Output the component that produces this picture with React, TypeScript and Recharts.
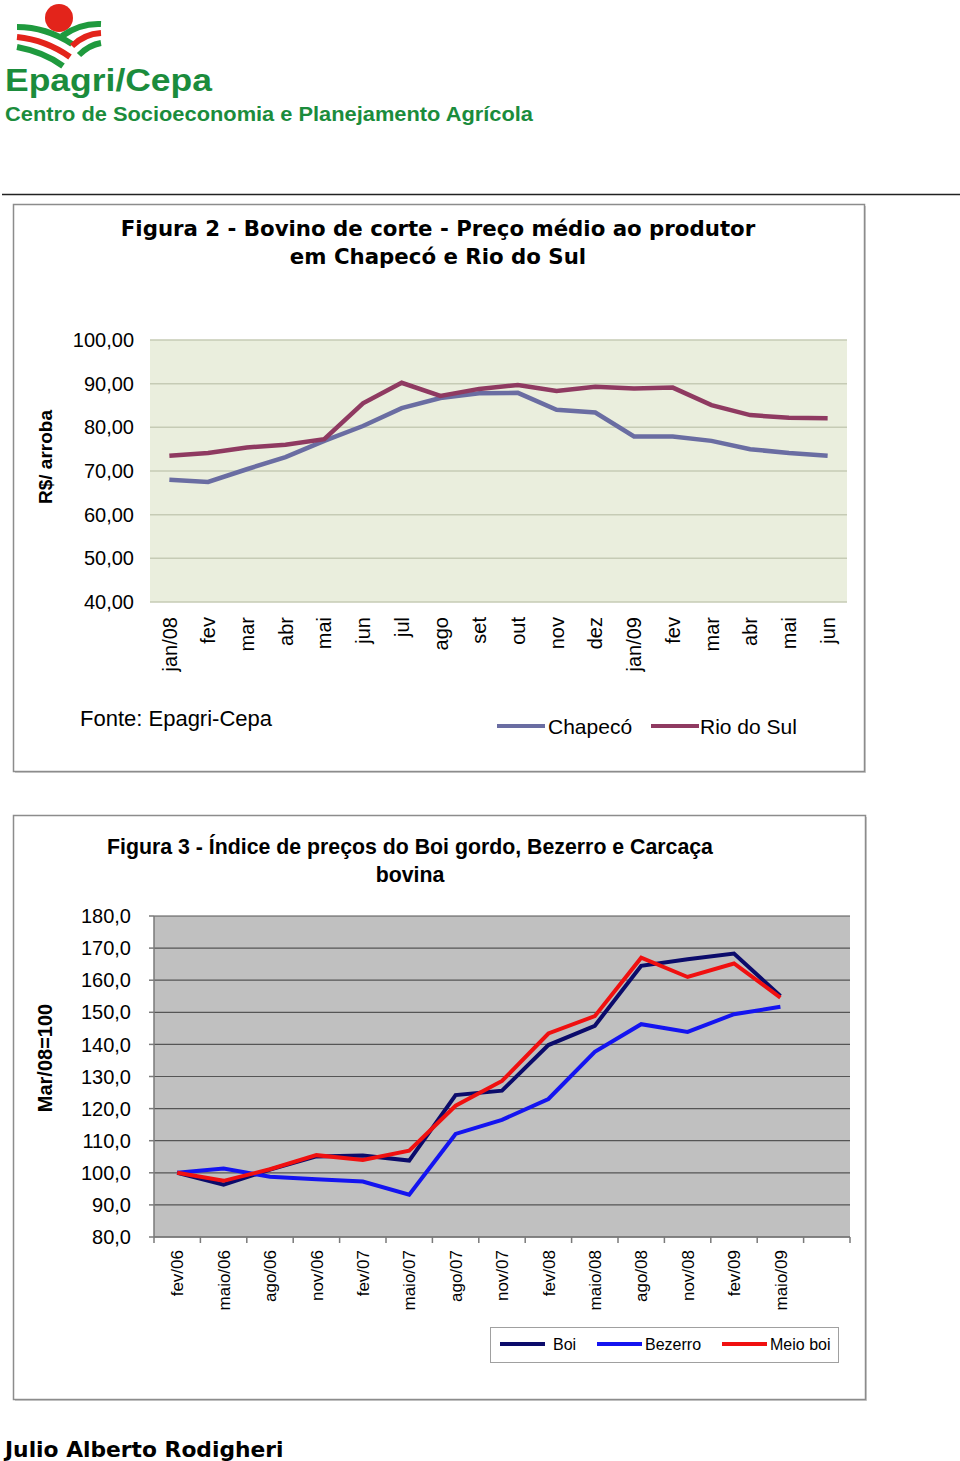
import { LineChart, Line, XAxis, YAxis, CartesianGrid } from "recharts";

// Figura 2 - preço médio (R$/arroba)
const months1 = ["jan/08", "fev", "mar", "abr", "mai", "jun", "jul", "ago", "set", "out", "nov", "dez", "jan/09", "fev", "mar", "abr", "mai", "jun"];
const chapeco = [68.0, 67.5, 70.4, 73.2, 76.9, 80.3, 84.4, 86.7, 87.8, 87.9, 84.0, 83.4, 77.9, 77.9, 76.9, 75.0, 74.1, 73.5];
const rioDoSul = [73.5, 74.1, 75.4, 76.0, 77.3, 85.5, 90.2, 87.2, 88.8, 89.7, 88.3, 89.3, 88.9, 89.1, 85.1, 82.8, 82.2, 82.1];
const ticks1 = [40, 50, 60, 70, 80, 90, 100];

// Figura 3 - índice (Mar/08 = 100)
const months2 = ["fev/06", "maio/06", "ago/06", "nov/06", "fev/07", "maio/07", "ago/07", "nov/07", "fev/08", "maio/08", "ago/08", "nov/08", "fev/09", "maio/09", ""];
const boi = [100.0, 96.3, 101.0, 105.1, 105.4, 103.8, 124.2, 125.6, 139.8, 145.8, 164.5, 166.5, 168.3, 155.1];
const bezerro = [100.0, 101.3, 98.8, 98.0, 97.3, 93.2, 112.1, 116.5, 123.0, 137.7, 146.3, 143.9, 149.4, 151.7];
const meioBoi = [100.0, 97.5, 101.1, 105.5, 104.0, 106.9, 120.9, 128.6, 143.4, 148.8, 167.0, 161.0, 165.2, 154.6];
const ticks2 = [80, 90, 100, 110, 120, 130, 140, 150, 160, 170, 180];

const series1 = [
  { key: "chapeco", name: "Chapecó", color: "#6a6da2" },
  { key: "rioDoSul", name: "Rio do Sul", color: "#8f3a61" },
];
const series2 = [
  { key: "boi", name: "Boi", color: "#0b0b6b" },
  { key: "bezerro", name: "Bezerro", color: "#1414f0" },
  { key: "meioBoi", name: "Meio boi", color: "#f01010" },
];

// months1 repeats names (fev, mar...), so the axis key gets the index to stay unique
const data1 = months1.map((m, i) => ({ key: `${i}-${m}`, chapeco: chapeco[i], rioDoSul: rioDoSul[i] }));
const data2 = months2.map((m, i) => ({ label: m, boi: boi[i], bezerro: bezerro[i], meioBoi: meioBoi[i] }));

const ARIAL = "'Liberation Sans', Arial, sans-serif";
const VERDANA = "'DejaVu Sans', Verdana, sans-serif";
const GREEN = "#1b8c3c";

function Tick1(props: any) {
  const { x, y, index } = props;
  return (
    <text x={x} y={y + 15} dy="0.36em" transform={`rotate(-90, ${x}, ${y + 15})`} textAnchor="end"
      fontFamily={ARIAL} fontSize={20} fill="#000">{months1[index]}</text>
  );
}

function Tick2(props: any) {
  const { x, y, payload, index, visibleTicksCount } = props;
  const off = payload.offset ?? 0;
  const last = index === (visibleTicksCount ?? 15) - 1;
  return (
    <g>
      <line x1={x - off} x2={x - off} y1={y} y2={y + 6} stroke="#7a7a7a" strokeWidth={1.5} />
      {last && <line x1={x + off} x2={x + off} y1={y} y2={y + 6} stroke="#7a7a7a" strokeWidth={1.5} />}
      <text x={x} y={y + 13} dy="0.36em" transform={`rotate(-90, ${x}, ${y + 13})`} textAnchor="end"
        fontFamily={ARIAL} fontSize={17} fill="#000">{payload.value}</text>
    </g>
  );
}

function Logo() {
  return (
    <g>
      <circle cx={59} cy={18} r={14} fill="#e3241b" />
      <path d="M17,27 Q46,27 72,44" stroke="#1f9a3e" strokeWidth={6} fill="none" />
      <path d="M17,37 Q46,40 70,57" stroke="#e3241b" strokeWidth={6} fill="none" />
      <path d="M17,47 Q44,52 63,66" stroke="#1f9a3e" strokeWidth={6} fill="none" />
      <path d="M101,24 Q80,23 62,36" stroke="#1f9a3e" strokeWidth={6} fill="none" />
      <path d="M101,33 Q84,34 72,46" stroke="#e3241b" strokeWidth={6} fill="none" />
      <path d="M101,43 Q89,45 79,55" stroke="#1f9a3e" strokeWidth={6} fill="none" />
      <text x={5} y={91} fontFamily={ARIAL} fontWeight="bold" fontSize={31} fill={GREEN}
        textLength={207} lengthAdjust="spacingAndGlyphs">Epagri/Cepa</text>
      <text x={5} y={121} fontFamily={ARIAL} fontWeight="bold" fontSize={21} fill={GREEN}
        textLength={528} lengthAdjust="spacingAndGlyphs">Centro de Socioeconomia e Planejamento Agrícola</text>
    </g>
  );
}

export default function App() {
  return (
    <div style={{ position: "absolute", left: 0, top: 0, width: 960, height: 1461, background: "#fff" }}>
      <svg width={960} height={1461} style={{ position: "absolute", left: 0, top: 0 }}>
        <Logo />
        <line x1={2} x2={960} y1={194.5} y2={194.5} stroke="#222" strokeWidth={1.5} />

        {/* caixa figura 2 */}
        <rect x={15} y={206} width={851} height={567} fill="#d0d0d0" />
        <rect x={13.5} y={204.5} width={851} height={567} fill="#fff" stroke="#8c8c8c" strokeWidth={1.5} />
        <text x={438} y={236} textAnchor="middle" fontFamily={VERDANA} fontWeight="bold" fontSize={21.3}>Figura 2 - Bovino de corte - Preço médio ao produtor</text>
        <text x={438} y={264} textAnchor="middle" fontFamily={VERDANA} fontWeight="bold" fontSize={21.3}>em Chapecó e Rio do Sul</text>
        <text transform="translate(52,457) rotate(-90)" textAnchor="middle" fontFamily={ARIAL} fontWeight="bold" fontSize={19}>R$/ arroba</text>
        <text x={80} y={726} fontFamily={ARIAL} fontSize={22}>Fonte: Epagri-Cepa</text>
        {series1.map((s, i) => (
          <g key={s.key}>
            <line x1={497 + i * 154} x2={545 + i * 154} y1={726} y2={726} stroke={s.color} strokeWidth={4} />
            <text x={548 + i * 152} y={734} fontFamily={ARIAL} fontSize={21}>{s.name}</text>
          </g>
        ))}

        {/* caixa figura 3 */}
        <rect x={15} y={817} width={852} height={584} fill="#d0d0d0" />
        <rect x={13.5} y={815.5} width={852} height={584} fill="#fff" stroke="#8c8c8c" strokeWidth={1.5} />
        <text x={410} y={854} textAnchor="middle" fontFamily={ARIAL} fontWeight="bold" fontSize={21.3}>Figura 3 - Índice de preços do Boi gordo, Bezerro e Carcaça</text>
        <text x={410} y={882} textAnchor="middle" fontFamily={ARIAL} fontWeight="bold" fontSize={21.3}>bovina</text>
        <text transform="translate(52,1058) rotate(-90)" textAnchor="middle" fontFamily={ARIAL} fontWeight="bold" fontSize={20}>Mar/08=100</text>
        <rect x={490.5} y={1327.5} width={348} height={35} fill="#fff" stroke="#a0a0a0" />
        {series2.map((s, i) => (
          <g key={s.key}>
            <line x1={[500, 597, 722][i]} x2={[545, 642, 767][i]} y1={1344} y2={1344} stroke={s.color} strokeWidth={4} />
            <text x={[553, 645, 770][i]} y={1350} fontFamily={ARIAL} fontSize={16}>{s.name}</text>
          </g>
        ))}

        <text x={5} y={1457} fontFamily={VERDANA} fontWeight="bold" fontSize={21.8}>Julio Alberto Rodigheri</text>
      </svg>

      <div style={{ position: "absolute", left: 13, top: 300 }}>
        <LineChart width={852} height={400} data={data1} margin={{ top: 40, right: 18, bottom: 18, left: 0 }}>
          <CartesianGrid vertical={false} stroke="#c6cbb5" strokeWidth={1.5} fill="#eaeedd" />
          <XAxis dataKey="key" scale="band" interval={0} axisLine={false} tickLine={false} tickSize={0} tickMargin={0} height={80} tick={<Tick1 />} />
          <YAxis domain={[40, 100]} ticks={ticks1} width={137} axisLine={false} tickLine={false} tickSize={0} tickMargin={16}
            tickFormatter={(v: number) => v.toFixed(2).replace(".", ",")}
            tick={{ fontFamily: ARIAL, fontSize: 20, fill: "#000" }} />
          {series1.map((s) => (
            <Line key={s.key} type="linear" dataKey={s.key} name={s.name} stroke={s.color} strokeWidth={4.5} dot={false} isAnimationActive={false} />
          ))}
        </LineChart>
      </div>

      <div style={{ position: "absolute", left: 13, top: 880 }}>
        <LineChart width={853} height={450} data={data2} margin={{ top: 36, right: 16, bottom: 13, left: 0 }}>
          <CartesianGrid vertical={false} stroke="#555" strokeWidth={1.2} fill="#c0c0c0" />
          <XAxis dataKey="label" scale="band" interval={0} axisLine={{ stroke: "#7a7a7a", strokeWidth: 1.5 }} tickLine={false} tickSize={0} tickMargin={0} height={80} tick={<Tick2 />} />
          <YAxis domain={[80, 180]} ticks={ticks2} width={141} axisLine={{ stroke: "#7a7a7a", strokeWidth: 1.5 }}
            tickLine={{ stroke: "#7a7a7a", strokeWidth: 1.5 }} tickSize={5} tickMargin={18}
            tickFormatter={(v: number) => v.toFixed(1).replace(".", ",")}
            tick={{ fontFamily: ARIAL, fontSize: 20, fill: "#000" }} />
          {series2.map((s) => (
            <Line key={s.key} type="linear" dataKey={s.key} name={s.name} stroke={s.color} strokeWidth={4} dot={false} isAnimationActive={false} />
          ))}
        </LineChart>
      </div>
    </div>
  );
}
